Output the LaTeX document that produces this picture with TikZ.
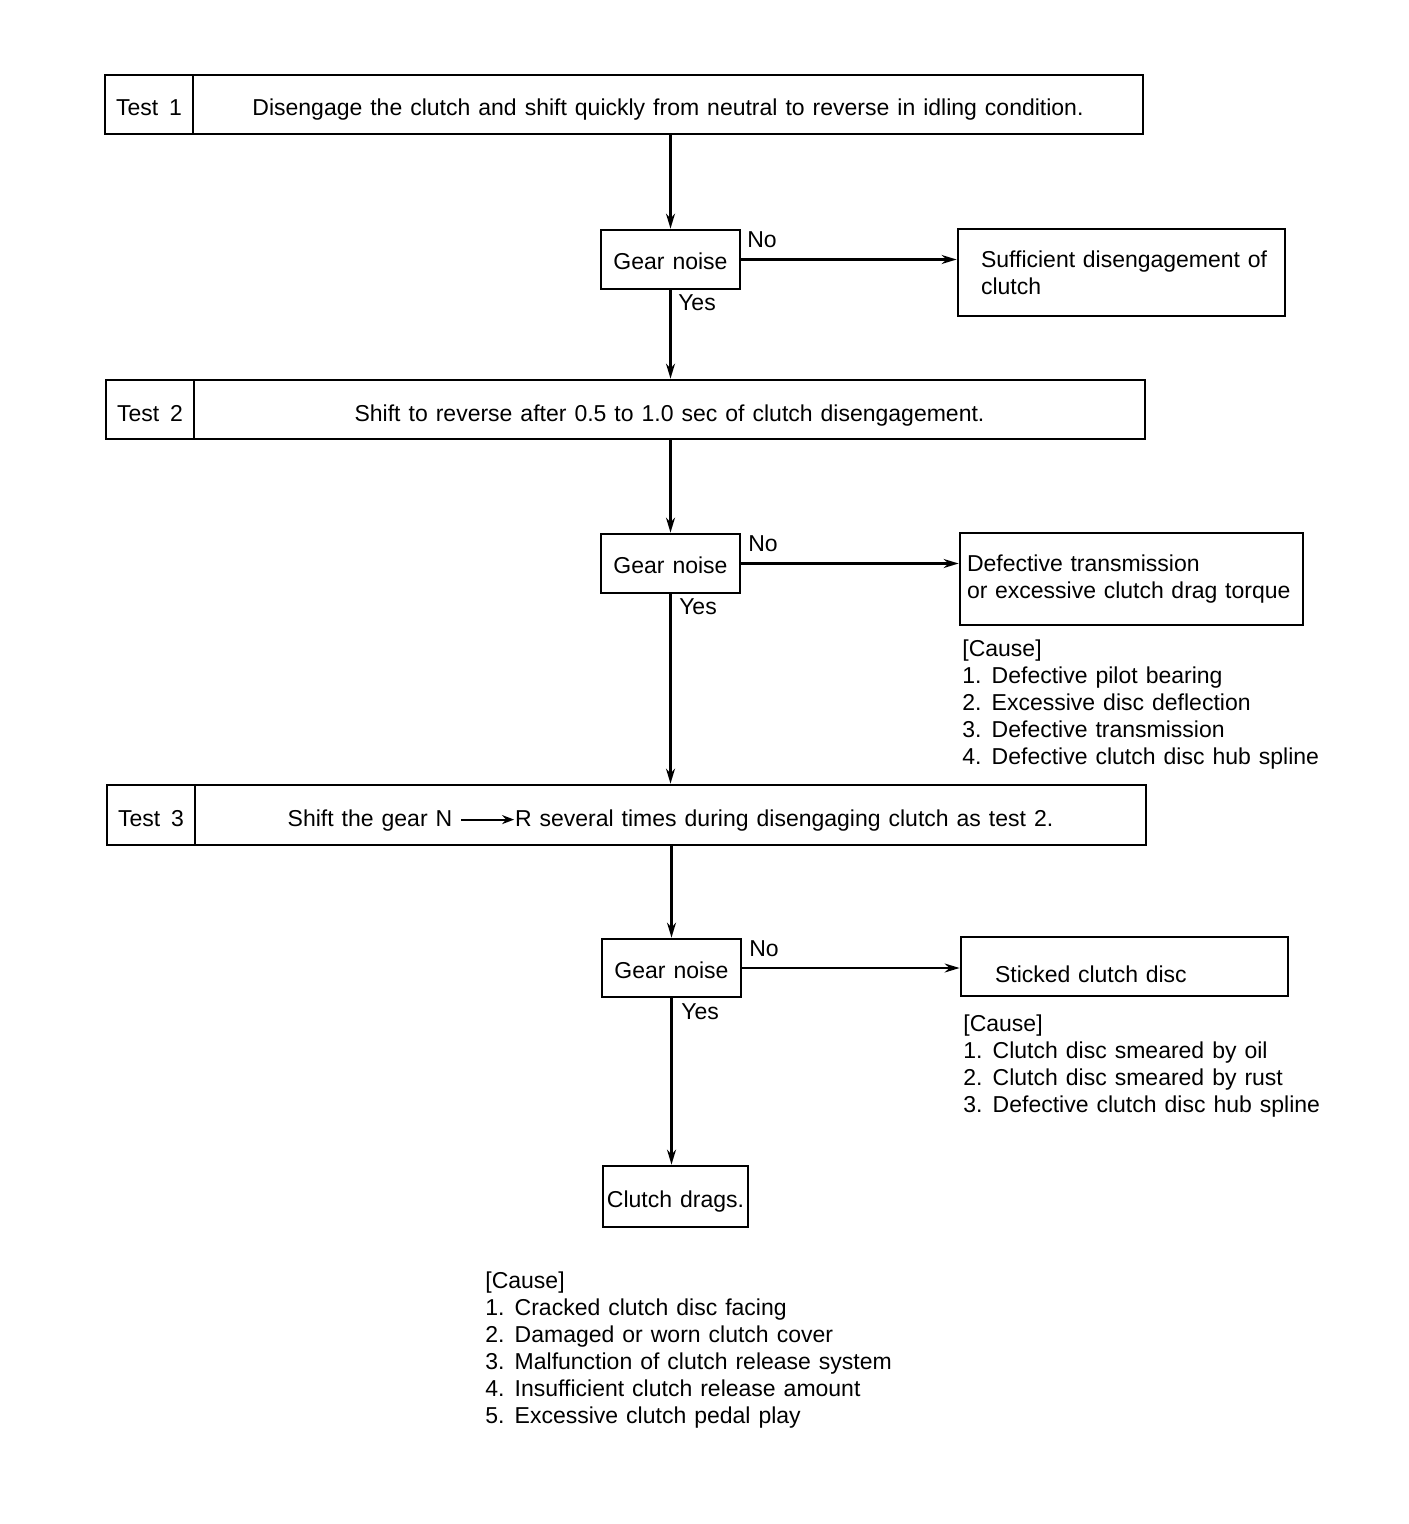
\documentclass[tikz,border=0pt]{standalone}
\usepackage{fontspec}
\setmainfont{Liberation Sans}
\usetikzlibrary{arrows.meta}
\begin{document}
\begin{tikzpicture}[x=0.5pt,y=-0.5pt,
  every node/.style={font={\fontsize{11.5}{13.5}\selectfont\spaceskip=4pt plus 1pt\relax}},
  box/.style={draw, line width=1.4pt, inner sep=0pt},
  tbox/.style={box, text height=11.5pt, text depth=0pt},
  gbox/.style={box, text height=10pt, text depth=0pt},
  conn/.style={line width=1.1pt, -{Stealth[length=7.5pt,width=4.5pt]}},
  lbl/.style={inner sep=0pt},
  cause/.style={inner sep=0pt, anchor=base west, align=left}
]
\useasboundingbox (0,0) rectangle (1408,1524);
% Test 1
\node[tbox, minimum width=44pt, minimum height=29.5pt] (t1a) at (149,104.5) {Test\hspace{5.5pt}1};
\node[tbox, minimum width=475pt, minimum height=29.5pt] (t1b) at (668,104.5) {Disengage the clutch and shift quickly from neutral to reverse in idling condition.};
% Gear noise 1
\node[gbox, minimum width=69.5pt, minimum height=29.5pt] (g1) at (670.5,259.5) {Gear noise};
\node[lbl] (no1) at (762,240) {No};
\node[lbl] (yes1) at (697,303) {Yes};
\node[box, minimum width=163.5pt, minimum height=43.5pt, inner xsep=11.5pt, text width=140.5pt, align=left] (s1) at (1121.5,272.5) {\mbox{Sufficient disengagement of}\\clutch};
% Test 2
\node[tbox, minimum width=44pt, minimum height=29.5pt] (t2a) at (150,409.5) {Test\hspace{5.5pt}2};
\node[tbox, minimum width=475.5pt, minimum height=29.5pt] (t2b) at (669.5,409.5) {Shift to reverse after 0.5 to 1.0 sec of clutch disengagement.};
% Gear noise 2
\node[gbox, minimum width=69.5pt, minimum height=29.5pt] (g2) at (670.5,563.5) {Gear noise};
\node[lbl] (no2) at (763,544) {No};
\node[lbl] (yes2) at (698,607) {Yes};
\node[box, minimum width=171.5pt, minimum height=46pt, inner xsep=3.5pt, text width=164.5pt, align=left] (s2) at (1131.5,579) {\mbox{Defective transmission}\\\mbox{or excessive clutch drag torque}};
\node[cause] (c2) at (962,764.5) {[Cause]\\1. Defective pilot bearing\\2. Excessive disc deflection\\3. Defective transmission\\4. Defective clutch disc hub spline};
% Test 3
\node[tbox, minimum width=44pt, minimum height=30pt] (t3a) at (151,815) {Test\hspace{5.5pt}3};
\node[tbox, minimum width=475.5pt, minimum height=30pt] (t3b) at (670.5,815) {Shift the gear N \tikz[baseline=-0.3em]\draw[line width=0.9pt,-{Stealth[length=6pt,width=4.5pt]}] (0,0) -- (2.3em,0);R several times during disengaging clutch as test 2.};
% Gear noise 3
\node[gbox, minimum width=69.5pt, minimum height=29pt] (g3) at (671.5,968) {Gear noise};
\node[lbl] (no3) at (764,949) {No};
\node[lbl] (yes3) at (700,1012) {Yes};
\node[box, minimum width=163.5pt, minimum height=29.5pt, inner xsep=17pt, text width=129.5pt, align=left, text height=15.5pt, text depth=0pt] (s3) at (1124.5,966.5) {\mbox{Sticked clutch disc}};
\node[cause] (c3) at (963,1112.5) {[Cause]\\1. Clutch disc smeared by oil\\2. Clutch disc smeared by rust\\3. Defective clutch disc hub spline};
% Clutch drags
\node[gbox, minimum width=72.5pt, minimum height=30.5pt, text height=11pt] (cd) at (675.5,1196.5) {Clutch drags.};
\node[cause] (c4) at (485,1423.5) {[Cause]\\1. Cracked clutch disc facing\\2. Damaged or worn clutch cover\\3. Malfunction of clutch release system\\4. Insufficient clutch release amount\\5. Excessive clutch pedal play};
% connectors
\draw[conn] (g1.north |- t1b.south) -- (g1.north);
\draw[conn] (g1.south) -- (g1.south |- t2b.north);
\draw[conn] (g2.north |- t2b.south) -- (g2.north);
\draw[conn] (g2.south) -- (g2.south |- t3b.north);
\draw[conn] (g3.north |- t3b.south) -- (g3.north);
\draw[conn] (g3.south) -- (g3.south |- cd.north);
\draw[conn] (g1.east) -- (g1.east -| s1.west);
\draw[conn] (g2.east) -- (g2.east -| s2.west);
\draw[conn] (g3.east) -- (g3.east -| s3.west);
\end{tikzpicture}
\end{document}
